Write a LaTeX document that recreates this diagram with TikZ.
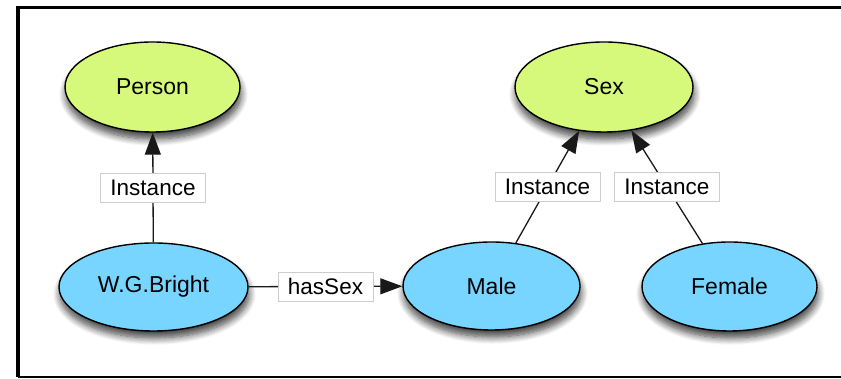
\documentclass[tikz,border=0pt]{standalone}
\usepackage{fontspec}
\setmainfont{Liberation Sans}
\usetikzlibrary{shapes.geometric,arrows.meta,shadows.blur}

\definecolor{classgreen}{RGB}{214,249,124}
\definecolor{instblue}{RGB}{120,213,255}
\definecolor{boxgray}{RGB}{205,205,205}

\tikzset{
  x=1pt, y=1pt,
  concept/.style={ellipse, draw=black, line width=1.4pt, inner sep=0pt,
    font=\fontsize{23}{27}\selectfont,
    blur shadow={shadow xshift=1pt, shadow yshift=-7pt, shadow blur radius=7pt,
      shadow opacity=75, shadow blur steps=10}},
  classnode/.style={concept, fill=classgreen},
  indivnode/.style={concept, fill=instblue},
  link/.style={draw=black!90, line width=1.3pt},
  arrowlink/.style={link, -{Triangle[length=22pt,width=16pt]}},
  tag/.style={fill=white, draw=boxgray, line width=0.8pt, inner xsep=10pt,
    inner ysep=0pt, minimum height=29pt, font=\fontsize{22.5}{27}\selectfont}
}

\begin{document}
\begin{tikzpicture}
\useasboundingbox (0,0) rectangle (841,379);

% frame
\draw[line width=3.5pt] (845,371.5) -- (18,371.5) -- (18,2);
\draw[line width=2.5pt] (18,2) -- (845,2);

% classes
\node[classnode, minimum width=175pt, minimum height=90pt] (person) at (152.5,292) {Person};
\node[classnode, minimum width=178pt, minimum height=90pt] (sex) at (604,292) {Sex};

% individuals
\node[indivnode, minimum width=189pt, minimum height=88pt] (bright) at (153.5,92) {W.G.Bright};
\node[indivnode, minimum width=177pt, minimum height=88pt] (male) at (491.5,93) {Male};
\node[indivnode, minimum width=175pt, minimum height=89pt] (female) at (729.5,92.5) {Female};

% relations
\draw[arrowlink] (bright) -- node[tag] (t1) {Instance} (person);
\draw[arrowlink] (male) -- node[tag] (t2) {Instance} (sex);
\draw[arrowlink] (female) -- node[tag] (t3) {Instance} (sex);
\draw[arrowlink] (bright) -- node[tag] (t4) {hasSex} (male);
\end{tikzpicture}
\end{document}
